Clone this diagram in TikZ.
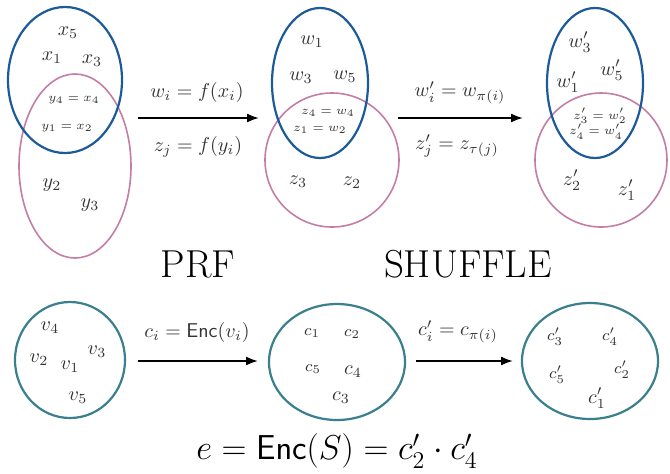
\documentclass[tikz,border=0pt]{standalone}
\usetikzlibrary{shapes.geometric,arrows.meta}
\definecolor{setblue}{HTML}{1D5A9A}
\definecolor{setpink}{HTML}{C47DA4}
\definecolor{setteal}{HTML}{3A7F8C}
\definecolor{labgray}{HTML}{333333}
\begin{document}
\begin{tikzpicture}[x=0.5pt,y=-0.5pt,
  bluebox/.style={ellipse,draw=setblue,line width=1.1pt,inner sep=0pt},
  pinkbox/.style={ellipse,draw=setpink,line width=0.8pt,inner sep=0pt},
  tealbox/.style={ellipse,draw=setteal,line width=1.1pt,inner sep=0pt},
  elem/.style={inner sep=0pt,text=labgray},
  small/.style={inner sep=0pt,text=labgray,font=\fontsize{6.2}{7}\selectfont},
  mid/.style={inner sep=0pt,text=labgray,font=\fontsize{8.5}{10}\selectfont},
  arrowlab/.style={inner sep=0pt,text=labgray},
  maparrow/.style={-{Latex[length=6pt,width=4.5pt]},line width=0.9pt},
  title/.style={inner sep=0pt,font=\fontsize{19.5}{22}\selectfont}]
\useasboundingbox (0,0) rectangle (670,473);

% ---- panel 1
\node[pinkbox,minimum width=56pt,minimum height=92pt] (p1) at (75,166) {};
\node[bluebox,minimum width=57pt,minimum height=73pt] (b1) at (65,80) {};
\node[elem] (x5) at (68,33) {$x_5$};
\node[elem] (x1) at (52,58) {$x_1$};
\node[elem] (x3) at (92,61) {$x_3$};
\node[small] (y4) at (74,100) {$y_4=x_4$};
\node[small] (y1) at (67,128) {$y_1=x_2$};
\node[elem] (y2) at (52,185) {$y_2$};
\node[elem] (y3) at (90,205) {$y_3$};

% ---- panel 2
\node[pinkbox,minimum width=67pt,minimum height=67pt] (p2) at (332,160) {};
\node[bluebox,minimum width=48pt,minimum height=75pt] (b2) at (320,83) {};
\node[elem] (w1) at (312,42) {$w_1$};
\node[elem] (w3) at (301,78) {$w_3$};
\node[elem] (w5) at (345,77) {$w_5$};
\node[small] (z4) at (328,113) {$z_4=w_4$};
\node[small] (z1) at (320,130) {$z_1=w_2$};
\node[elem] (z3) at (298,182) {$z_3$};
\node[elem] (z2) at (352,183) {$z_2$};

% ---- panel 3
\node[pinkbox,minimum width=66pt,minimum height=67pt] (p3) at (601,160) {};
\node[bluebox,minimum width=48pt,minimum height=75pt] (b3) at (595,83) {};
\node[elem] (w3p) at (580,42) {$w_3'$};
\node[elem] (w5p) at (612,70) {$w_5'$};
\node[elem] (w1p) at (568,82) {$w_1'$};
\node[small] (z3p) at (600,116) {$z_3'=w_2'$};
\node[small] (z4p) at (596,132) {$z_4'=w_4'$};
\node[elem] (z2p) at (572,180) {$z_2'$};
\node[elem] (z1p) at (627,190) {$z_1'$};

% ---- top arrows
\coordinate (a1s) at (138,118);
\coordinate (a1e) at (259,118);
\draw[maparrow] (a1s) -- (a1e);
\node[arrowlab] (l1a) at (197,92) {$w_i=f(x_i)$};
\node[arrowlab] (l1b) at (198,147) {$z_j=f(y_i)$};
\coordinate (a2s) at (398,118);
\coordinate (a2e) at (523,118);
\draw[maparrow] (a2s) -- (a2e);
\node[arrowlab] (l2a) at (460,93) {$w_i'=w_{\pi(i)}$};
\node[arrowlab] (l2b) at (457,146) {$z_j'=z_{\tau(j)}$};

% ---- titles
\node[title] (prf) at (198,264) {PRF};
\node[title] (shuf) at (468,264) {SHUFFLE};

% ---- bottom row
\node[tealbox,minimum width=55pt,minimum height=58pt] (s1) at (70,360) {};
\node[elem] (v4) at (50,328) {$v_4$};
\node[elem] (v2) at (39,360) {$v_2$};
\node[elem] (v1) at (70,367) {$v_1$};
\node[elem] (v3) at (97,352) {$v_3$};
\node[elem] (v5) at (78,398) {$v_5$};

\node[tealbox,minimum width=68pt,minimum height=58pt] (s2) at (337,362) {};
\node[mid] (c1) at (312,333) {$c_1$};
\node[mid] (c2) at (352,334) {$c_2$};
\node[mid] (c5) at (313,369) {$c_5$};
\node[elem] (c4) at (353,372) {$c_4$};
\node[elem] (c3) at (341,398) {$c_3$};

\node[tealbox,minimum width=68pt,minimum height=58pt] (s3) at (590,361) {};
\node[mid] (c3p) at (555,337) {$c_3'$};
\node[mid] (c4p) at (610,337) {$c_4'$};
\node[mid] (c5p) at (557,375) {$c_5'$};
\node[mid] (c2p) at (622,370) {$c_2'$};
\node[elem] (c1p) at (597,398) {$c_1'$};

\coordinate (a3s) at (138,361);
\coordinate (a3e) at (258,361);
\draw[maparrow] (a3s) -- (a3e);
\node[arrowlab] (l3) at (197,332) {$c_i=\mathsf{Enc}(v_i)$};
\coordinate (a4s) at (416,361);
\coordinate (a4e) at (513,361);
\draw[maparrow] (a4s) -- (a4e);
\node[arrowlab] (l4) at (458,332) {$c_i'=c_{\pi(i)}$};

\node[inner sep=0pt,font=\fontsize{18.5}{21}\selectfont] (eq) at (337,451) {$e=\mathsf{Enc}(S)=c_2'\cdot c_4'$};
\end{tikzpicture}
\end{document}
